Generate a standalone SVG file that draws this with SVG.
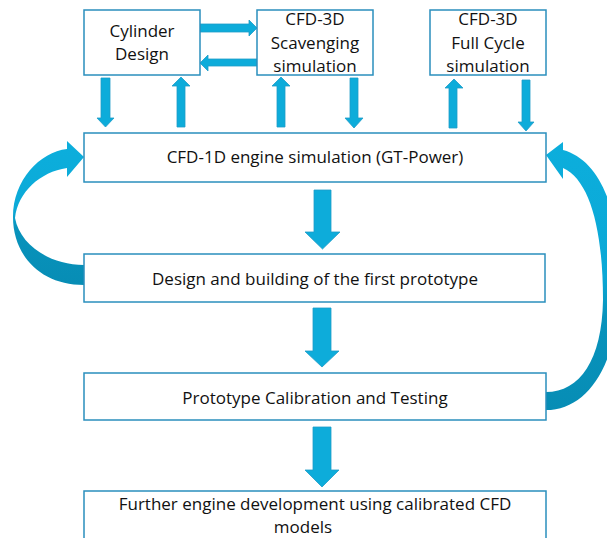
<svg xmlns="http://www.w3.org/2000/svg" width="607" height="538" viewBox="0 0 607 538">
<style>
.box{fill:#fff;stroke:#2A8FBD;stroke-width:1.5}
.t{font-family:"Open Sans","Liberation Sans",Arial,sans-serif;font-size:17px;fill:#111;text-anchor:middle}
.ar{fill:#0DACDA;stroke:#1E9CC8;stroke-width:0.8}
</style>
<defs>
<linearGradient id="gl" x1="0" y1="0" x2="0" y2="1">
<stop offset="0" stop-color="#0CAEDC"/>
<stop offset="0.47" stop-color="#0CAAD8"/>
<stop offset="0.6" stop-color="#0893BC"/>
<stop offset="1" stop-color="#078DB5"/>
</linearGradient>
<linearGradient id="gr" x1="0" y1="0" x2="0" y2="1">
<stop offset="0" stop-color="#0CAEDC"/>
<stop offset="0.5" stop-color="#0BA8D6"/>
<stop offset="0.65" stop-color="#0893BC"/>
<stop offset="1" stop-color="#078DB5"/>
</linearGradient>
</defs>
<rect width="607" height="538" fill="#fff"/>

<g id="connectors">
<!-- Cylinder -> Scavenging -->
<path class="ar" d="M200 24 H249 V20 L257 28 L249 36 V32 H200 Z"/>
<!-- Scavenging -> Cylinder -->
<path class="ar" d="M257 59 H208 V55 L200 63 L208 71 V66 H257 Z"/>
<!-- Cylinder down -->
<path class="ar" d="M101 78 H110 V118 H114 L105.5 127 L97 118 H101 Z"/>
<!-- Cylinder up -->
<path class="ar" d="M177 127 V86 H172 L181 77 L190 86 H185 V127 Z"/>
<!-- Scavenging up -->
<path class="ar" d="M277 127 V86 H272 L281 77 L290 86 H285 V127 Z"/>
<!-- Scavenging down -->
<path class="ar" d="M350 78 H358 V118 H363 L354 128 L345 118 H350 Z"/>
<!-- Full cycle up -->
<path class="ar" d="M449 128 V88 H445 L454 79 L463 88 H457 V128 Z"/>
<!-- Full cycle down -->
<path class="ar" d="M522 80 H530 V122 H534 L526 131 L518 122 H522 Z"/>
<!-- Big down arrows -->
<path class="ar" d="M314 190 H331 V232 H340 L322.5 249 L305 232 H314 Z"/>
<path class="ar" d="M313 308 H331 V351 H339 L322 367 L305 351 H313 Z"/>
<path class="ar" d="M313 427 H331 V470 H339 L322 487 L305 470 H313 Z"/>
<!-- Left curved arrow -->
<path fill="url(#gl)" d="M84 285 C40 285 13 255 13 217 C13 180 40 152 67 149 L67 141 L84 157 L67 177 L67 168 C40 172 18 192 15 218 C20 245 50 265 84 265 Z"/>
<!-- Right curved arrow -->
<path fill="url(#gr)" d="M546 155 L563 142 L563 150 C600 160 620 210 620 280 C620 360 590 410 546 410 L546 392 C580 392 602 360 603 300 C603 230 590 180 563 168 L563 179 Z"/>
</g>

<g id="cylinder">
<rect class="box" x="84" y="10" width="116" height="65"/>
<text class="t" x="142" y="37">Cylinder</text>
<text class="t" x="142" y="60">Design</text>
</g>
<g id="scavenging">
<rect class="box" x="257" y="10" width="116" height="65"/>
<text class="t" x="315" y="25">CFD-3D</text>
<text class="t" x="315" y="49">Scavenging</text>
<text class="t" x="315" y="72">simulation</text>
</g>
<g id="fullcycle">
<rect class="box" x="430" y="10" width="116" height="65"/>
<text class="t" x="488" y="25">CFD-3D</text>
<text class="t" x="488" y="49">Full Cycle</text>
<text class="t" x="488" y="72">simulation</text>
</g>
<g id="cfd1d">
<rect class="box" x="84" y="133" width="462" height="49"/>
<text class="t" x="315" y="163">CFD-1D engine simulation (GT-Power)</text>
</g>
<g id="design">
<rect class="box" x="84" y="254" width="461" height="48"/>
<text class="t" x="315" y="285">Design and building of the first prototype</text>
</g>
<g id="calibration">
<rect class="box" x="84" y="373" width="462" height="47"/>
<text class="t" x="315" y="404">Prototype Calibration and Testing</text>
</g>
<g id="further">
<rect class="box" x="84" y="491" width="462" height="60"/>
<text class="t" x="315" y="510">Further engine development  using calibrated CFD</text>
<text class="t" x="303" y="533">models</text>
</g>
</svg>
